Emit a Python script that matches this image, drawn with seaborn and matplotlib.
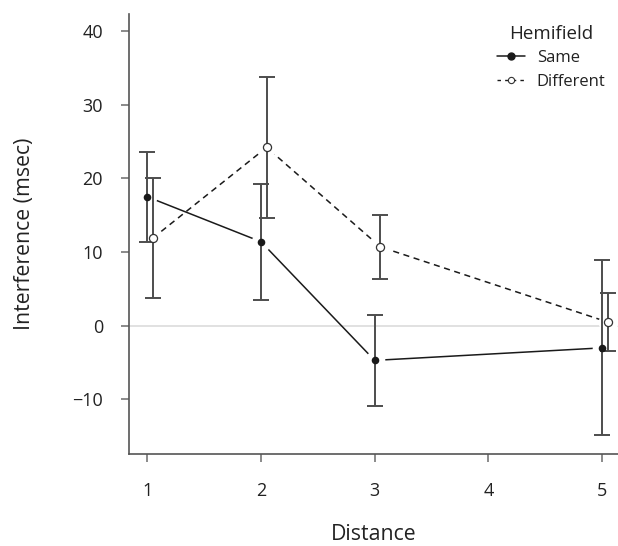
import numpy as np
import pandas as pd
import matplotlib
matplotlib.use("Agg")
import matplotlib.pyplot as plt
import seaborn as sns
from matplotlib.lines import Line2D

distance = [1, 2, 3, 5]
same_mean = [17.5, 11.4, -4.7, -3.0]
same_lo = [11.3, 3.5, -10.9, -14.8]
same_hi = [23.6, 19.3, 1.5, 8.9]
diff_mean = [11.9, 24.2, 10.7, 0.5]
diff_lo = [3.7, 14.6, 6.3, -3.4]
diff_hi = [20.1, 33.8, 15.0, 4.4]
groups = ["Same", "Different"]
offsets = {"Same": 0.0, "Different": 0.05}

rows = []
for g, m, lo, hi in [("Same", same_mean, same_lo, same_hi), ("Different", diff_mean, diff_lo, diff_hi)]:
    for d, mv, l, h in zip(distance, m, lo, hi):
        rows.append(dict(Distance=d + offsets[g], Hemifield=g, Interference=mv, lo=l, hi=h))
df = pd.DataFrame(rows)

sns.set_style("ticks")
plt.rcParams['font.family'] = ['Open Sans', 'DejaVu Sans']

fig = plt.figure(figsize=(6.18, 5.46), dpi=100)
ax = fig.add_axes([0.2092, 0.1685, 0.7908, 0.8059])

ax.axhline(0, color="#dcdcdc", lw=1.2, zorder=0)

dark = "#1a1a1a"
sns.lineplot(data=df, x="Distance", y="Interference", hue="Hemifield", style="Hemifield",
             hue_order=groups, style_order=groups,
             palette={"Same": dark, "Different": dark},
             dashes={"Same": "", "Different": (4, 3)}, markers=False,
             lw=1.1, ax=ax, legend=False, zorder=1, sort=False)

# white halos to create gaps around points
ax.scatter(df["Distance"], df["Interference"], s=200, color="white", zorder=2, linewidths=0)

for g in groups:
    sub = df[df.Hemifield == g]
    ax.errorbar(sub["Distance"], sub["Interference"],
                yerr=[sub["Interference"] - sub["lo"], sub["hi"] - sub["Interference"]],
                fmt="none", ecolor="#4d4d4d", elinewidth=1.4, capsize=5.5, capthick=1.4, zorder=3)

s = df[df.Hemifield == "Same"]
d = df[df.Hemifield == "Different"]
ax.scatter(s["Distance"], s["Interference"], s=30, color=dark, zorder=4, linewidths=0)
ax.scatter(d["Distance"], d["Interference"], s=34, facecolor="white", edgecolor="#333333", linewidths=0.9, zorder=4)

ax.set_xlim(0.842, 5.14)
ax.set_ylim(-17.4, 42.3)
ax.set_xticks([1, 2, 3, 4, 5])
ax.set_yticks([-10, 0, 10, 20, 30, 40])
ax.set_yticklabels(["\u221210", "0", "10", "20", "30", "40"])
sns.despine(ax=ax)
for sp in ["left", "bottom"]:
    ax.spines[sp].set_color("#555555")
    ax.spines[sp].set_linewidth(1.2)
ax.tick_params(axis="both", colors="#777777", length=6, width=1.2, labelsize=13, labelcolor="#222222")
ax.tick_params(axis="x", pad=14)
ax.tick_params(axis="y", pad=13)
ax.set_xlabel("Distance", fontsize=15.3, color="#222222")
ax.set_ylabel("Interference (msec)", fontsize=15.3, color="#222222")
ax.yaxis.set_label_coords(-0.2134, 0.5)
ax.xaxis.set_label_coords(0.5, -0.184)
ax.xaxis.label.set_va("center")
ax.yaxis.label.set_va("center")

handles = [
    Line2D([0], [0], color=dark, lw=1.1, marker="o", markersize=5, markerfacecolor=dark, markeredgecolor=dark),
    Line2D([0], [0], color=dark, lw=1.0, ls=(0, (2.5, 3)), marker="o", markersize=4.5, markerfacecolor="white",
           markeredgecolor="#333333", markeredgewidth=0.8),
]
leg = ax.legend(handles, groups, title="Hemifield", loc="upper right", bbox_to_anchor=(1.005, 1.0095),
                frameon=False, fontsize=12, title_fontsize=13.5, handlelength=1.7, handletextpad=0.7,
                labelspacing=0.45)
for t in leg.get_texts():
    t.set_color("#222222")
leg.get_title().set_color("#222222")

fig.savefig("out.png", dpi=100)
